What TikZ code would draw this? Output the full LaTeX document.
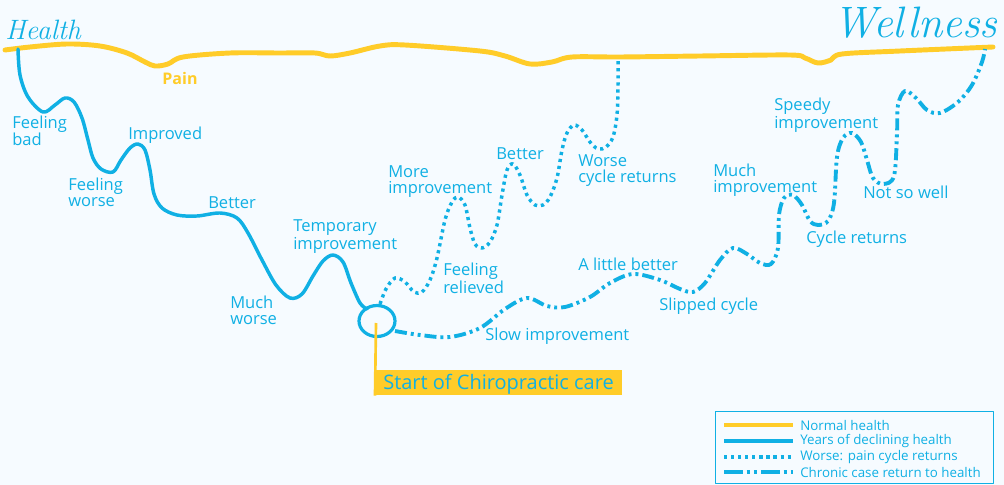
\documentclass[tikz,border=0pt]{standalone}
\usepackage{fontspec}
\setsansfont{Open Sans}
\begin{document}
\begin{tikzpicture}[x=0.75pt,y=-0.75pt,
  line join=round,
  lbl/.style={font=\sffamily\fontsize{12.4}{12}\selectfont, text=cyanblue, inner sep=0pt, align=left, anchor=base west},
  legtxt/.style={font=\sffamily\fontsize{10}{10}\selectfont, text=cyanblue, inner sep=0pt, anchor=west},
  normalline/.style={draw=sunyellow, line width=3.7pt, line cap=round},
  declineline/.style={draw=cyanblue, line width=2.6pt, line cap=round},
  worseline/.style={draw=cyanblue, line width=2.6pt, dash pattern=on 2.4pt off 2.9pt},
  chronicline/.style={draw=cyanblue, line width=2.9pt, dash pattern=on 9pt off 3pt on 2.2pt off 3pt on 2.2pt off 3pt},
  script/.style={font=\rmfamily\itshape, text=cyanblue, inner sep=0pt, anchor=base west}]
\definecolor{cyanblue}{RGB}{16,176,228}
\definecolor{sunyellow}{RGB}{255,204,41}
\definecolor{paper}{RGB}{246,251,255}

% canvas
\fill[paper] (0,0) rectangle (1004,485);
\useasboundingbox (0,0) rectangle (1004,485);

% headings
\node[script, font=\rmfamily\itshape\fontsize{21}{21}\selectfont] (health) at (5,40) {Health};
\node[script, font=\rmfamily\itshape\fontsize{33}{33}\selectfont] (wellness) at (833,38) {Wellness};

% normal health baseline
\draw[normalline] plot[smooth, tension=0.55] coordinates {
  (5,50) (30,47) (67,44) (100,46) (127,53) (145,62) (155,66) (168,64) (183,57)
  (230,53) (280,53) (315,53) (330,56) (350,53) (380,46) (405,45) (480,51)
  (505,56) (530,64) (552,62) (572,57) (620,57) (700,56) (790,55) (805,58)
  (818,63) (831,60) (842,54) (900,51) (993,47)};
\node[font=\sffamily\bfseries\fontsize{12}{12}\selectfont, text=sunyellow, inner sep=0pt] (pain) at (180,79) {Pain};

% years of declining health
\draw[declineline] plot[smooth, tension=0.55] coordinates {
  (18,49) (20,75) (28,97) (43,112) (55,105) (65,98) (74,102) (82,118) (88,140)
  (93,158) (101,169) (113,172) (121,160) (130,148) (138,144) (145,150) (150,170)
  (154,194) (162,208) (177,215) (197,216) (220,213) (237,218) (248,233)
  (262,260) (276,285) (290,298) (302,294) (313,276) (323,261) (333,255)
  (343,262) (351,283) (360,303) (367,309)};

% start of care marker
\draw[cyanblue, line width=2.4pt] (377,321) ellipse [x radius=18, y radius=15.5];
\coordinate (care) at (376,323);
\node[fill=sunyellow, text=cyanblue, font=\sffamily\fontsize{15}{15}\selectfont,
  anchor=north west, inner xsep=6pt, inner ysep=0pt, minimum height=25*0.75pt,
  text depth=0.25ex] (start) at (375,370) {Start of Chiropractic care};
\draw[sunyellow, line width=2pt] (care) -- (start.south west);

% pain cycle returns
\draw[worseline] plot[smooth, tension=0.55] coordinates {
  (380,304) (386,289) (395,278) (405,282) (414,292) (422,292) (430,280)
  (437,258) (445,220) (452,202) (458,197) (465,205) (470,228) (475,244)
  (482,248) (490,242) (497,225) (502,195) (507,170) (513,164) (520,175)
  (527,195) (535,205) (543,205) (550,197) (557,178) (562,150) (567,133)
  (574,125) (582,130) (590,142) (598,149) (606,147) (613,137) (617,115)
  (618,85) (618,58)};

% chronic case return to health
\draw[chronicline] plot[smooth, tension=0.55] coordinates {
  (395,331) (420,335) (450,337) (480,328) (505,309) (527,298) (547,306)
  (565,307) (590,297) (610,283) (633,274) (660,280) (680,289) (693,292)
  (705,283) (720,260) (733,248) (747,254) (760,263) (771,264) (778,248)
  (779,215) (784,198) (793,195) (802,205) (810,221) (818,225) (828,221)
  (834,203) (837,157) (843,138) (852,133) (861,142) (867,160) (873,178)
  (883,184) (894,176) (897,133) (898,105) (905,91) (916,98) (927,110)
  (940,113) (958,102) (972,85) (982,62) (985,49)};

% labels along the curves (anchored at the baseline of the last line)
\node[lbl] (bad) at (12,146) {Feeling\\bad};
\node[lbl] (worse) at (68,206) {Feeling\\worse};
\node[lbl] (improved) at (128,140) {Improved};
\node[lbl] (better1) at (208,208) {Better};
\node[lbl] (muchworse) at (230,324) {Much\\worse};
\node[lbl] (temporary) at (293,249) {Temporary\\improvement};
\node[lbl] (more) at (388,193) {More\\improvement};
\node[lbl] (better2) at (496,160) {Better};
\node[lbl] (cycle1) at (578,182) {Worse\\cycle returns};
\node[lbl] (relieved) at (443,293) {Feeling\\relieved};
\node[lbl] (slow) at (485,340) {Slow improvement};
\node[lbl] (little) at (578,270) {A little better};
\node[lbl] (slipped) at (659,310) {Slipped cycle};
\node[lbl] (muchimp) at (713,192) {Much\\improvement};
\node[lbl] (cycle2) at (806,243) {Cycle returns};
\node[lbl] (speedy) at (774,128) {Speedy\\improvement};
\node[lbl] (notsowell) at (863,199) {Not so well};

% legend
\node[draw=cyanblue, line width=1pt, inner sep=0pt, minimum width=278*0.75pt,
  minimum height=72*0.75pt, anchor=north west] (legend) at (715,411) {};
\coordinate (k1a) at (724,425); \coordinate (k1b) at (793,425);
\coordinate (k2a) at (724,441); \coordinate (k2b) at (793,441);
\coordinate (k3a) at (724,457); \coordinate (k3b) at (793,457);
\coordinate (k4a) at (724,472); \coordinate (k4b) at (793,472);
\draw[draw=sunyellow, line width=2.8pt] (k1a) -- (k1b);
\draw[draw=cyanblue, line width=2.8pt] (k2a) -- (k2b);
\draw[draw=cyanblue, line width=2.8pt, dash pattern=on 2.4pt off 2.9pt] (k3a) -- (k3b);
\draw[draw=cyanblue, line width=2.8pt, dash pattern=on 14pt off 3pt on 2.4pt off 3pt on 2.4pt off 3pt] (k4a) -- (k4b);
\node[legtxt] (l1) at (800,425) {Normal health};
\node[legtxt] (l2) at (800,441) {Years of declining health};
\node[legtxt] (l3) at (800,457) {Worse: pain cycle returns};
\node[legtxt] (l4) at (800,472) {Chronic case return to health};
\end{tikzpicture}
\end{document}
